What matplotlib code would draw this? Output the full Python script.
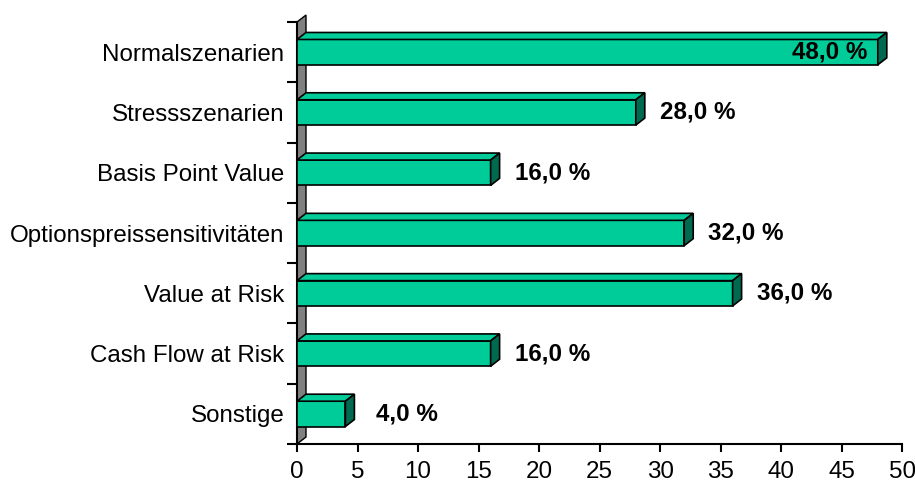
import numpy as np
import matplotlib.pyplot as plt
from matplotlib.patches import Polygon

categories = ["Normalszenarien", "Stressszenarien", "Basis Point Value",
              "Optionspreissensitivitäten", "Value at Risk",
              "Cash Flow at Risk", "Sonstige"]
values = [48.0, 28.0, 16.0, 32.0, 36.0, 16.0, 4.0]
xticks = [0, 5, 10, 15, 20, 25, 30, 35, 40, 45, 50]

plt.rcParams['font.family'] = ['Liberation Sans', 'DejaVu Sans']

W, H = 915, 482
fig = plt.figure(figsize=(W / 100, H / 100), dpi=100)
ax = fig.add_axes([297 / W, (H - 444) / H, (902 - 297) / W, (444 - 22) / H])

n = len(categories)
ax.set_xlim(0, 50)
ax.set_ylim(-0.5, n - 0.5)

# depth of the 3d effect in data units (about 9 px right, 7 px up)
dx = 9 / (605 / 50)
dy = 7 / (422 / n)
h = 0.42

front = '#00cc99'
side = '#006a50'
wall = '#808080'

# back wall
ax.add_patch(Polygon([(0, -0.5), (dx, -0.5 + dy), (dx, n - 0.5 + dy), (0, n - 0.5)],
                     closed=True, facecolor=wall, edgecolor='black', lw=1,
                     clip_on=False, zorder=1))

ypos = np.arange(n)[::-1]
for y, v in zip(ypos, values):
    y0, y1 = y - h / 2, y + h / 2
    ax.add_patch(Polygon([(0, y0), (v, y0), (v, y1), (0, y1)], closed=True,
                         facecolor=front, edgecolor='black', lw=1.2,
                         clip_on=False, zorder=3))
    ax.add_patch(Polygon([(0, y1), (v, y1), (v + dx, y1 + dy), (dx, y1 + dy)],
                         closed=True, facecolor=front, edgecolor='black', lw=1.2,
                         clip_on=False, zorder=3))
    ax.add_patch(Polygon([(v, y0), (v + dx, y0 + dy), (v + dx, y1 + dy), (v, y1)],
                         closed=True, facecolor=side, edgecolor='black', lw=1.2,
                         clip_on=False, zorder=3))
    lx = min(v + 5.1, 44.0)
    ax.text(lx, y, f"{v:.1f} %".replace('.', ','), ha='center', va='center',
            fontsize=17.4, fontweight='bold', zorder=4)

ax.spines['top'].set_visible(False)
ax.spines['right'].set_visible(False)
ax.spines['left'].set_linewidth(1.5)
ax.spines['bottom'].set_linewidth(1.5)
ax.spines['left'].set_zorder(2)

ax.set_xticks(xticks)
ax.set_xticklabels([str(t) for t in xticks], fontsize=17.4)
ax.tick_params(axis='x', direction='out', length=6, width=1.5, pad=6)

ax.set_yticks(ypos)
ax.set_yticklabels(categories, fontsize=17.4)
ax.set_yticks(np.arange(n + 1) - 0.5, minor=True)
ax.tick_params(axis='y', which='major', length=0, pad=9)
ax.tick_params(axis='y', which='minor', direction='out', length=7, width=1.5)

fig.savefig('out.png', dpi=100)
